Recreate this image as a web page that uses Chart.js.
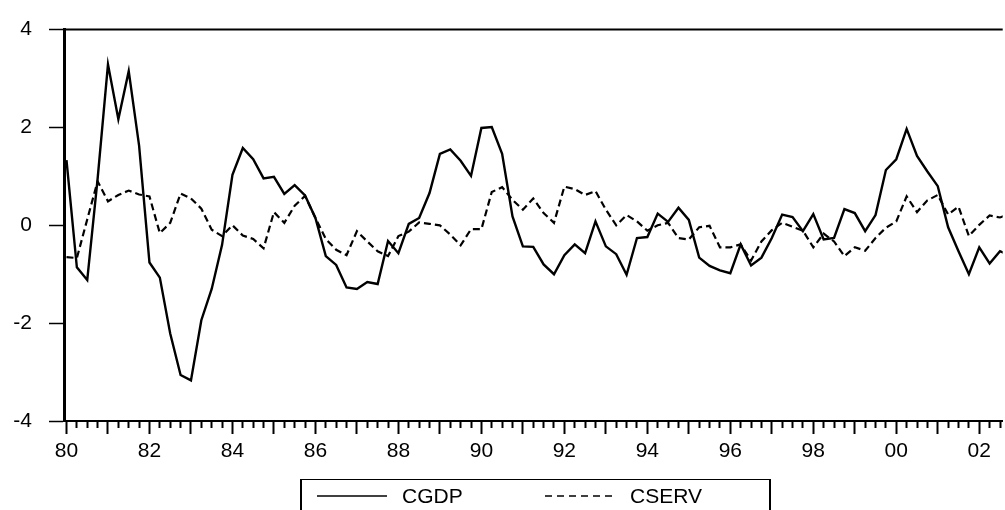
<!DOCTYPE html>
<html>
<head>
<meta charset="utf-8">
<script src="https://cdn.jsdelivr.net/npm/chart.js@4"></script>
<style>
  html, body { margin: 0; padding: 0; background: #fff; }
  #wrap { position: relative; width: 1005px; height: 510px; overflow: hidden; }
  #legend {
    position: absolute; left: 300px; top: 479px; width: 471px; height: 60px;
    border: 1px solid #000; border-left-width: 2px; border-right-width: 2px;
    box-sizing: border-box; font: 21px Arial, "Liberation Sans", sans-serif; color: #000;
  }
  .item { position: absolute; top: 4px; height: 24px; display: flex; align-items: center; }
  .item svg { margin-right: 15px; }
</style>
</head>
<body>
<div id="wrap">
  <canvas id="chart" width="1005" height="510"></canvas>
  <div id="legend"></div>
</div>
<script>
// quarterly, starting 1980Q1
const cgdp = [
  1.33, -0.86, -1.12, 0.95, 3.29, 2.17, 3.15, 1.63,
  -0.76, -1.07, -2.21, -3.06, -3.17, -1.94, -1.30, -0.40,
  1.03, 1.58, 1.35, 0.96, 0.99, 0.64, 0.82, 0.61,
  0.15, -0.63, -0.81, -1.27, -1.30, -1.16, -1.20, -0.32,
  -0.57, 0.03, 0.15, 0.66, 1.46, 1.55, 1.32, 1.01,
  1.99, 2.01, 1.46, 0.18, -0.43, -0.44, -0.80, -1.00,
  -0.61, -0.39, -0.57, 0.08, -0.43, -0.59, -1.01, -0.26,
  -0.24, 0.24, 0.07, 0.36, 0.11, -0.66, -0.83, -0.92,
  -0.98, -0.39, -0.82, -0.66, -0.26, 0.22, 0.17, -0.12,
  0.23, -0.29, -0.26, 0.33, 0.25, -0.12, 0.21, 1.13,
  1.35, 1.97, 1.42, 1.10, 0.80, -0.04, -0.53, -1.00,
  -0.45, -0.78, -0.53, -0.62
]
const cserv = [
  -0.65, -0.67, 0.12, 0.90, 0.49, 0.62, 0.71, 0.63,
  0.59, -0.16, 0.05, 0.65, 0.55, 0.34, -0.09, -0.22,
  0.00, -0.21, -0.28, -0.47, 0.27, 0.05, 0.40, 0.60,
  0.15, -0.28, -0.50, -0.61, -0.12, -0.33, -0.53, -0.63,
  -0.22, -0.13, 0.06, 0.03, 0.00, -0.19, -0.41, -0.08,
  -0.08, 0.68, 0.78, 0.52, 0.32, 0.55, 0.25, 0.05,
  0.79, 0.74, 0.62, 0.70, 0.32, 0.00, 0.21, 0.08,
  -0.11, 0.00, 0.05, -0.26, -0.29, -0.04, -0.01, -0.45,
  -0.45, -0.39, -0.72, -0.33, -0.10, 0.05, -0.03, -0.11,
  -0.45, -0.17, -0.33, -0.63, -0.45, -0.52, -0.26, -0.05,
  0.08, 0.59, 0.27, 0.51, 0.62, 0.22, 0.38, -0.22,
  0.01, 0.20, 0.16, 0.24
]
// labels every second year (every 8 quarters)
const yearLabels = ['80', '82', '84', '86', '88', '90', '92', '94', '96', '98', '00', '02']
const seriesNames = ['CGDP', 'CSERV']

const FONT = 'Arial, "Liberation Sans", sans-serif'
Chart.defaults.font.family = FONT
Chart.defaults.font.size = 21
Chart.defaults.color = '#000'

const xMin = -0.24
const xMax = 90.26

const toPoints = arr => arr.map((v, i) => ({ x: i, y: v }))

// top edge of the frame
const framePlugin = {
  id: 'frame',
  afterDraw(chart) {
    const { ctx, chartArea: a } = chart
    ctx.save()
    ctx.strokeStyle = '#000'
    ctx.lineWidth = 2
    ctx.beginPath()
    ctx.moveTo(a.left, a.top)
    ctx.lineTo(a.right, a.top)
    ctx.stroke()
    ctx.restore()
  }
}

// html legend in a box under the axis
const htmlLegend = {
  id: 'htmlLegend',
  afterUpdate(chart) {
    const box = document.getElementById('legend')
    box.innerHTML = ''
    const lefts = [15, 243]
    chart.data.datasets.forEach((ds, i) => {
      const item = document.createElement('div')
      item.className = 'item'
      item.style.left = lefts[i] + 'px'
      const dash = ds.borderDash ? ' stroke-dasharray="7 5"' : ''
      item.innerHTML = '<svg width="70" height="4"><line x1="0" y1="2" x2="70" y2="2" stroke="#000" stroke-width="1.5"' + dash + '/></svg>'
      const label = document.createElement('span')
      label.textContent = ds.label
      item.appendChild(label)
      box.appendChild(item)
    })
  }
}

const ctx = document.getElementById('chart').getContext('2d')
new Chart(ctx, {
  type: 'line',
  data: {
    datasets: [
      {
        label: seriesNames[0],
        data: toPoints(cgdp),
        borderColor: '#000',
        borderWidth: 2.4,
        pointRadius: 0,
        tension: 0
      },
      {
        label: seriesNames[1],
        data: toPoints(cserv),
        borderColor: '#000',
        borderWidth: 2.2,
        borderDash: [7, 4],
        pointRadius: 0,
        tension: 0
      }
    ]
  },
  options: {
    responsive: false,
    animation: false,
    layout: { padding: { top: 25, right: 0, bottom: 0, left: 0 } },
    plugins: {
      legend: { display: false },
      tooltip: { enabled: false }
    },
    scales: {
      x: {
        type: 'linear',
        min: xMin,
        max: xMax,
        afterBuildTicks: scale => {
          scale.ticks = cgdp.map((_, i) => ({ value: i })).filter(t => t.value <= xMax)
        },
        afterFit: scale => { scale.height = 89 },
        grid: {
          drawOnChartArea: false,
          tickLength: 13,
          tickWidth: 2,
          tickColor: '#000',
          tickBorderDash: c => (c.tick && c.tick.value % 4 !== 0 ? [6, 100] : [])
        },
        border: { display: true, color: '#000', width: 2 },
        ticks: {
          autoSkip: false,
          maxRotation: 0,
          minRotation: 0,
          padding: 5,
          callback: v => (v % 8 === 0 ? yearLabels[v / 8] : '')
        }
      },
      y: {
        min: -4,
        max: 4,
        afterFit: scale => { scale.width = 64 },
        grid: {
          drawOnChartArea: false,
          tickLength: 15,
          tickWidth: 1.5,
          tickColor: '#000'
        },
        border: { display: true, color: '#000', width: 3 },
        ticks: { stepSize: 2, padding: 17 }
      }
    }
  },
  plugins: [framePlugin, htmlLegend]
})
</script>
</body>
</html>
